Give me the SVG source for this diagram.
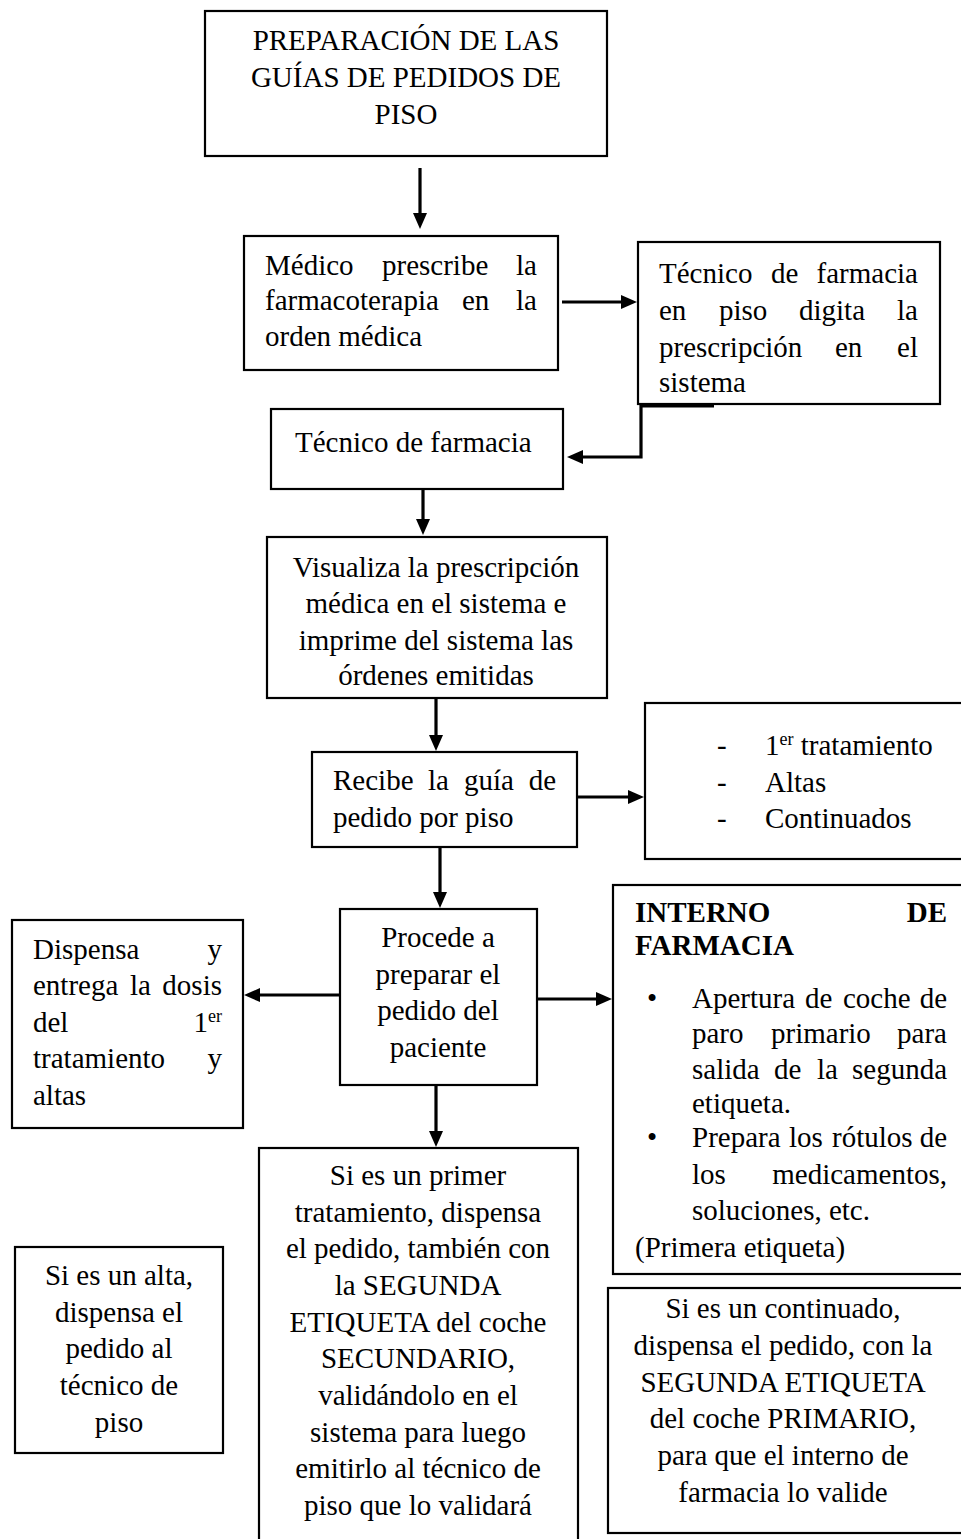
<svg xmlns="http://www.w3.org/2000/svg" width="961" height="1539" viewBox="0 0 961 1539">
<style>
.box{fill:#fff;stroke:#000;stroke-width:2.2}
text{font-family:"Liberation Serif","Times New Roman",serif;font-size:29px;fill:#000}
.t1{font-size:29px}
.c{text-anchor:middle}
.e{text-anchor:end}
.b{font-weight:bold}
.sup{font-size:18px}
.con{fill:none;stroke:#000;stroke-width:3.2}
</style>
<defs>
<marker id="ah" markerUnits="userSpaceOnUse" markerWidth="17" markerHeight="15" refX="5" refY="7" orient="auto">
<path d="M0,0 L16,7 L0,14 Z" fill="#000"/>
</marker>
</defs>
<rect width="961" height="1539" fill="#fff"/>

<g id="n1">
<rect class="box" x="205" y="11" width="402" height="145"/>
<text class="t1 c" x="406" y="50">PREPARACIÓN DE LAS</text>
<text class="t1 c" x="406" y="87">GUÍAS DE PEDIDOS DE</text>
<text class="t1 c" x="406" y="124">PISO</text>
</g>

<g id="n2">
<rect class="box" x="244" y="236" width="314" height="134"/>
<text x="265" y="275">Médico</text><text x="382" y="275">prescribe</text><text class="e" x="537" y="275">la</text>
<text x="265" y="310">farmacoterapia</text><text x="462" y="310">en</text><text class="e" x="537" y="310">la</text>
<text x="265" y="346">orden médica</text>
</g>

<g id="n3">
<rect class="box" x="638" y="242" width="302" height="162"/>
<text x="659" y="283">Técnico</text><text x="771" y="283">de</text><text class="e" x="918" y="283">farmacia</text>
<text x="659" y="320">en</text><text x="719" y="320">piso</text><text x="799" y="320">digita</text><text class="e" x="918" y="320">la</text>
<text x="659" y="357">prescripción</text><text x="835" y="357">en</text><text class="e" x="918" y="357">el</text>
<text x="659" y="392">sistema</text>
</g>

<g id="n4">
<rect class="box" x="271" y="409" width="292" height="80"/>
<text x="295" y="452">Técnico de farmacia</text>
</g>

<g id="n5">
<rect class="box" x="267" y="537" width="340" height="161"/>
<text class="c" x="436" y="577">Visualiza la prescripción</text>
<text class="c" x="436" y="613">médica en el sistema e</text>
<text class="c" x="436" y="650">imprime del sistema las</text>
<text class="c" x="436" y="685">órdenes emitidas</text>
</g>

<g id="n6">
<rect class="box" x="312" y="752" width="265" height="95"/>
<text x="333" y="790">Recibe</text><text x="428" y="790">la</text><text x="464" y="790">guía</text><text class="e" x="556" y="790">de</text>
<text x="333" y="827">pedido por piso</text>
</g>

<g id="n7">
<rect class="box" x="645" y="703" width="330" height="156"/>
<text x="717" y="755">-</text><text x="765" y="755">1<tspan class="sup" dy="-10">er</tspan><tspan dy="10"> tratamiento</tspan></text>
<text x="717" y="792">-</text><text x="765" y="792">Altas</text>
<text x="717" y="828">-</text><text x="765" y="828">Continuados</text>
</g>

<g id="n8">
<rect class="box" x="340" y="909" width="197" height="176"/>
<text class="c" x="438" y="947">Procede a</text>
<text class="c" x="438" y="984">preparar el</text>
<text class="c" x="438" y="1020">pedido del</text>
<text class="c" x="438" y="1057">paciente</text>
</g>

<g id="n9">
<rect class="box" x="12" y="920" width="231" height="208"/>
<text x="33" y="959">Dispensa</text><text class="e" x="222" y="959">y</text>
<text x="33" y="995">entrega</text><text x="130" y="995">la</text><text class="e" x="222" y="995">dosis</text>
<text x="33" y="1032">del</text><text class="e" x="222" y="1032">1<tspan class="sup" dy="-10">er</tspan></text>
<text x="33" y="1068">tratamiento</text><text class="e" x="222" y="1068">y</text>
<text x="33" y="1105">altas</text>
</g>

<g id="n10">
<rect class="box" x="613" y="885" width="360" height="389"/>
<text class="b" x="635" y="922">INTERNO</text><text class="b e" x="947" y="922">DE</text>
<text class="b" x="635" y="955">FARMACIA</text>
<text class="c" x="652" y="1008">•</text>
<text x="692" y="1008">Apertura</text><text x="805" y="1008">de</text><text x="843" y="1008">coche</text><text class="e" x="947" y="1008">de</text>
<text x="692" y="1043">paro</text><text x="771" y="1043">primario</text><text class="e" x="947" y="1043">para</text>
<text x="692" y="1079">salida</text><text x="774" y="1079">de</text><text x="817" y="1079">la</text><text class="e" x="947" y="1079">segunda</text>
<text x="692" y="1113">etiqueta.</text>
<text class="c" x="652" y="1147">•</text>
<text x="692" y="1147">Prepara</text><text x="789" y="1147">los</text><text x="832" y="1147">rótulos</text><text class="e" x="947" y="1147">de</text>
<text x="692" y="1184">los</text><text class="e" x="947" y="1184">medicamentos,</text>
<text x="692" y="1220">soluciones, etc.</text>
<text x="635" y="1257">(Primera etiqueta)</text>
</g>

<g id="n11">
<rect class="box" x="259" y="1148" width="319" height="400"/>
<text class="c" x="418" y="1185">Si es un primer</text>
<text class="c" x="418" y="1222">tratamiento, dispensa</text>
<text class="c" x="418" y="1258">el pedido, también con</text>
<text class="c" x="418" y="1295">la SEGUNDA</text>
<text class="c" x="418" y="1332">ETIQUETA del coche</text>
<text class="c" x="418" y="1368">SECUNDARIO,</text>
<text class="c" x="418" y="1405">validándolo en el</text>
<text class="c" x="418" y="1442">sistema para luego</text>
<text class="c" x="418" y="1478">emitirlo al técnico de</text>
<text class="c" x="418" y="1515">piso que lo validará</text>
</g>

<g id="n12">
<rect class="box" x="15" y="1247" width="208" height="206"/>
<text class="c" x="119" y="1285">Si es un alta,</text>
<text class="c" x="119" y="1322">dispensa el</text>
<text class="c" x="119" y="1358">pedido al</text>
<text class="c" x="119" y="1395">técnico de</text>
<text class="c" x="119" y="1432">piso</text>
</g>

<g id="n13">
<rect class="box" x="608" y="1288" width="365" height="245"/>
<text class="c" x="783" y="1318">Si es un continuado,</text>
<text class="c" x="783" y="1355">dispensa el pedido, con la</text>
<text class="c" x="783" y="1392">SEGUNDA ETIQUETA</text>
<text class="c" x="783" y="1428">del coche PRIMARIO,</text>
<text class="c" x="783" y="1465">para que el interno de</text>
<text class="c" x="783" y="1502">farmacia lo valide</text>
</g>

<g id="connectors">
<path class="con" d="M420,168 V218" marker-end="url(#ah)"/>
<path class="con" d="M562,302 H626" marker-end="url(#ah)"/>
<path class="con" d="M640,406 H714"/>
<path class="con" d="M641,405 V457 H578" marker-end="url(#ah)"/>
<path class="con" d="M423,489 V524" marker-end="url(#ah)"/>
<path class="con" d="M436,698 V740" marker-end="url(#ah)"/>
<path class="con" d="M578,797 H633" marker-end="url(#ah)"/>
<path class="con" d="M440,847 V897" marker-end="url(#ah)"/>
<path class="con" d="M340,995 H255" marker-end="url(#ah)"/>
<path class="con" d="M537,999 H601" marker-end="url(#ah)"/>
<path class="con" d="M436,1085 V1136" marker-end="url(#ah)"/>
</g>
</svg>
